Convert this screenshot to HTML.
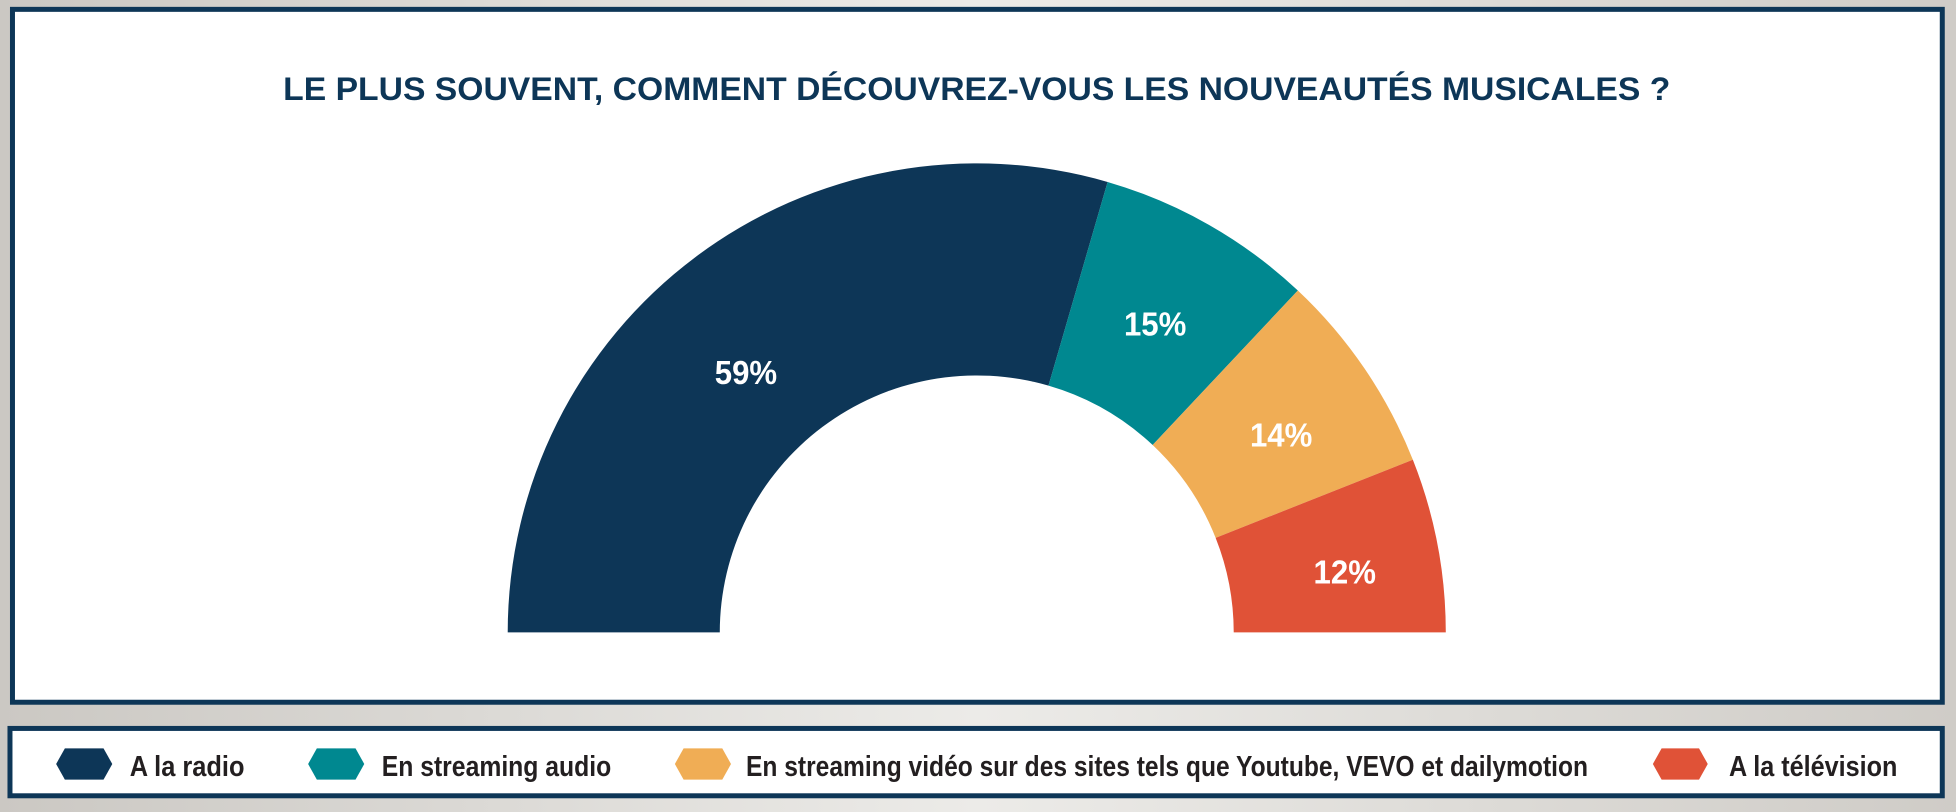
<!DOCTYPE html>
<html><head><meta charset="utf-8"><style>
html,body{margin:0;padding:0;width:1956px;height:812px;overflow:hidden;background:#d6d4cf}
svg{display:block}
text{font-family:"Liberation Sans",sans-serif;font-weight:bold}
</style></head><body>
<svg width="1956" height="812" viewBox="0 0 1568 651" preserveAspectRatio="none">
<defs><linearGradient id="bg" x1="0" x2="1" y1="0" y2="0">
<stop offset="0" stop-color="#cbc8c3"/><stop offset="0.5" stop-color="#ecebe8"/><stop offset="1" stop-color="#cfccc7"/></linearGradient></defs>
<rect width="1568" height="651" fill="url(#bg)"/>
<rect x="10" y="7.5" width="1547" height="555.5" fill="#fff" stroke="#0d3657" stroke-width="4"/>
<rect x="8" y="584" width="1549" height="54" fill="#fff" stroke="#0d3657" stroke-width="4"/>
<text x="783" y="80" text-anchor="middle" font-size="26" fill="#0d3657" textLength="1112" lengthAdjust="spacingAndGlyphs">LE PLUS SOUVENT, COMMENT DÉCOUVREZ-VOUS LES NOUVEAUTÉS MUSICALES ?</text>
<path d="M407 507 A376 376 0 0 1 887.9 145.9 L840.5 309.2 A206 206 0 0 0 577 507 Z" fill="#0d3657"/>
<path d="M887.9 145.9 A376 376 0 0 1 1040.4 232.9 L924 356.8 A206 206 0 0 0 840.5 309.2 Z" fill="#008890"/>
<path d="M1040.4 232.9 A376 376 0 0 1 1132.6 368.6 L974.5 431.2 A206 206 0 0 0 924 356.8 Z" fill="#f0ad55"/>
<path d="M1132.6 368.6 A376 376 0 0 1 1159 507 L989 507 A206 206 0 0 0 974.5 431.2 Z" fill="#e05237"/>
<g fill="#fff" font-size="27" text-anchor="middle">
<text x="598" y="308" textLength="50" lengthAdjust="spacingAndGlyphs">59%</text>
<text x="926" y="269" textLength="50" lengthAdjust="spacingAndGlyphs">15%</text>
<text x="1027" y="358" textLength="50" lengthAdjust="spacingAndGlyphs">14%</text>
<text x="1078" y="468" textLength="50" lengthAdjust="spacingAndGlyphs">12%</text>
</g>
<g>
<polygon points="45,612.5 52,600 83,600 90,612.5 83,625 52,625" fill="#0d3657"/>
<polygon points="247,612.5 254,600 285,600 292,612.5 285,625 254,625" fill="#008890"/>
<polygon points="541,612.5 548,600 579,600 586,612.5 579,625 548,625" fill="#f0ad55"/>
<polygon points="1325,612.5 1332,600 1362,600 1369,612.5 1362,625 1332,625" fill="#e05237"/>
</g>
<g fill="#231f20" font-size="23">
<text x="104" y="622" textLength="92" lengthAdjust="spacingAndGlyphs">A la radio</text>
<text x="306" y="622" textLength="184" lengthAdjust="spacingAndGlyphs">En streaming audio</text>
<text x="598" y="622" textLength="675" lengthAdjust="spacingAndGlyphs">En streaming vidéo sur des sites tels que Youtube, VEVO et dailymotion</text>
<text x="1386" y="622" textLength="135" lengthAdjust="spacingAndGlyphs">A la télévision</text>
</g>
</svg>
</body></html>
